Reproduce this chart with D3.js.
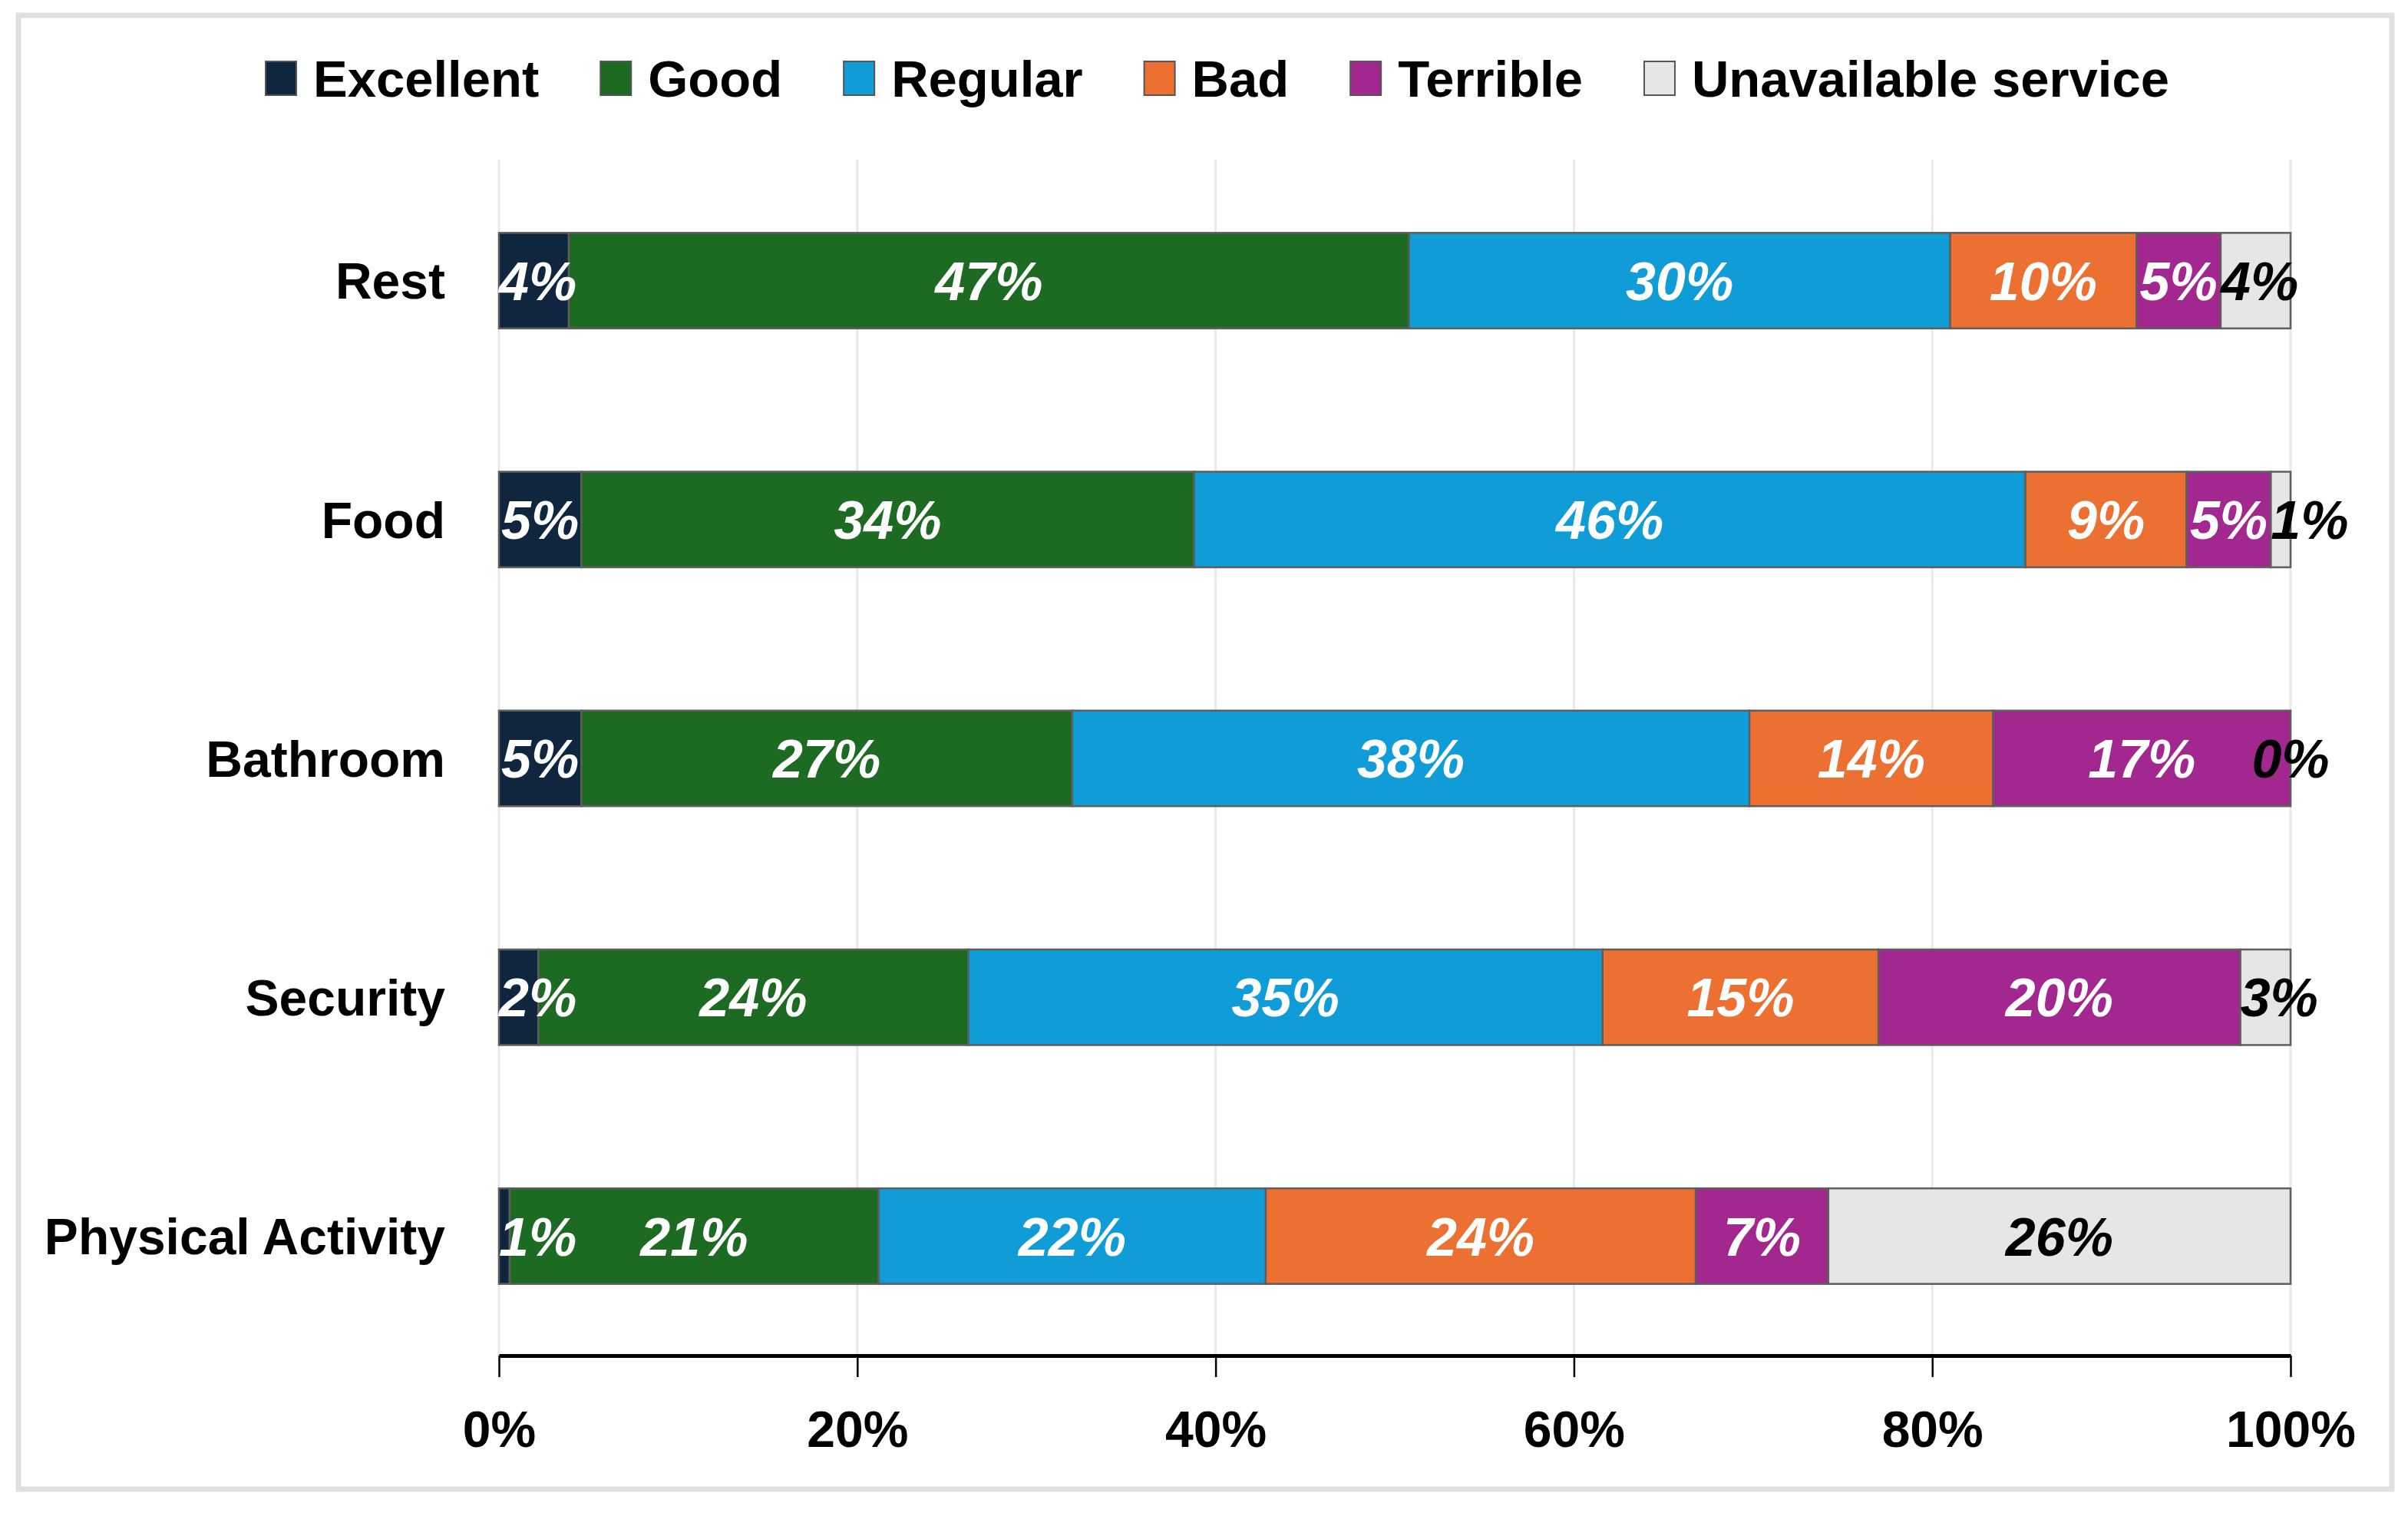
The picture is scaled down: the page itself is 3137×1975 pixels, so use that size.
<!DOCTYPE html>
<html>
<head>
<meta charset="utf-8">
<script src="https://cdn.jsdelivr.net/npm/d3@7"></script>
<style>
  body { margin: 0; background: #fff; }
  text { font-family: "Liberation Sans", Arial, sans-serif; font-weight: bold; }
</style>
</head>
<body>
<div id="chart"></div>
<script>
// data (percent of answers)
const categories = ['Rest', 'Food', 'Bathroom', 'Security', 'Physical Activity'];
const levels = ['Excellent', 'Good', 'Regular', 'Bad', 'Terrible', 'Unavailable service'];
const excellent = [3.9, 4.6, 4.6, 2.2, 0.6];
const good = [46.9, 34.2, 27.4, 24.0, 20.6];
const regular = [30.2, 46.4, 37.8, 35.4, 21.6];
const bad = [10.4, 9.0, 13.6, 15.4, 24.0];
const terrible = [4.7, 4.7, 16.6, 20.2, 7.4];
const unavailable = [3.9, 1.1, 0.0, 2.8, 25.8];
const xTicks = [0, 20, 40, 60, 80, 100];

const colors = ['#10263f', '#1d6a23', '#109dd7', '#ec7031', '#a2288f', '#e6e6e6'];
const labelColors = ['#fff', '#fff', '#fff', '#fff', '#fff', '#000'];

const series = [excellent, good, regular, bad, terrible, unavailable];
const rows = categories.map((c, i) => {
    const r = {name: c};
    levels.forEach((l, j) => r[l] = series[j][i]);
    return r;
});

const width = 3137;
const height = 1975;
const margin = {top: 210, bottom: 209, left: 650, right: 153};

const svg = d3.select('#chart')
    .append('svg')
        .attr('width', width)
        .attr('height', height)
        .attr('viewBox', [0, 0, width, height]);

// frame
svg.append('rect')
    .attr('x', 24).attr('y', 20)
    .attr('width', 3092).attr('height', 1920)
    .attr('fill', '#fff')
    .attr('stroke', '#e0e0e0')
    .attr('stroke-width', 7);

const x = d3.scaleLinear()
    .domain([0, 100])
    .range([margin.left, width - margin.right]);

const y = d3.scaleBand()
    .domain(categories)
    .range([margin.top, height - margin.bottom])
    .paddingInner(0.6)
    .paddingOuter(0.3);

// gridlines
svg.append('g')
    .selectAll('line')
    .data(xTicks)
    .join('line')
        .attr('x1', d => x(d)).attr('x2', d => x(d))
        .attr('y1', margin.top - 2).attr('y2', height - margin.bottom)
        .attr('stroke', '#e9e9e9')
        .attr('stroke-width', 3);

const stacked = d3.stack().keys(levels)(rows);

const layer = svg.append('g')
    .selectAll('g')
    .data(stacked)
    .join('g')
        .attr('fill', (d, i) => colors[i]);

layer.selectAll('rect')
    .data(d => d)
    .join('rect')
        .attr('x', d => x(d[0]))
        .attr('y', d => y(d.data.name))
        .attr('width', d => x(d[1]) - x(d[0]))
        .attr('height', y.bandwidth())
        .attr('stroke', '#5e5e5e')
        .attr('stroke-width', 2.5);

// value labels
svg.append('g')
    .selectAll('g')
    .data(stacked)
    .join('g')
        .attr('fill', (d, i) => labelColors[i])
        .selectAll('text')
        .data(d => d)
        .join('text')
            .attr('y', d => y(d.data.name) + y.bandwidth() / 2)
            .attr('dy', '0.36em')
            .attr('text-anchor', 'middle')
            .attr('font-size', 70)
            .attr('font-style', 'italic')
            .text(d => Math.round(d[1] - d[0]) + '%')
            .attr('x', function(d) {
                const w = this.getComputedTextLength();
                const mid = (x(d[0]) + x(d[1])) / 2;
                // thin first segment: keep the label inside the plot
                if (d[0] === 0) return Math.max(mid, x(0) + w / 2);
                // thin last segment: label starts at the segment start
                if (d[1] >= 99.9 && d[1] - d[0] > 0) return Math.max(mid, x(d[0]) + w / 2);
                return mid;
            });

// category labels
svg.append('g')
    .selectAll('text')
    .data(categories)
    .join('text')
        .attr('x', margin.left - 70)
        .attr('y', d => y(d) + y.bandwidth() / 2)
        .attr('dy', '0.36em')
        .attr('text-anchor', 'end')
        .attr('font-size', 66)
        .attr('fill', '#000')
        .text(d => d);

function xAxis(g) {
    g.attr('transform', `translate(0, ${height - margin.bottom})`)
        .call(d3.axisBottom(x).tickValues(xTicks).tickFormat(d => d + '%').tickSize(28).tickSizeOuter(0).tickPadding(44))
        .attr('font-size', 66)
        .attr('font-family', null)
        .attr('color', '#000');
    g.select('.domain').attr('stroke-width', 5);
    g.selectAll('.tick line').attr('stroke-width', 2.5);
}
svg.append('g').call(xAxis);

// legend
const legend = svg.append('g');
let lx = 0;
levels.forEach((l, i) => {
    const item = legend.append('g').attr('transform', `translate(${lx}, 0)`);
    item.append('rect')
        .attr('x', 0).attr('y', 102 - 22)
        .attr('width', 40).attr('height', 44)
        .attr('fill', colors[i])
        .attr('stroke', '#555')
        .attr('stroke-width', 2);
    const t = item.append('text')
        .attr('x', 62).attr('y', 102)
        .attr('dy', '0.36em')
        .attr('font-size', 67)
        .attr('fill', '#000')
        .text(l);
    lx += 62 + t.node().getComputedTextLength() + 80;
});
lx -= 80;
legend.attr('transform', `translate(${1586 - lx / 2}, 0)`);
</script>
</body>
</html>
